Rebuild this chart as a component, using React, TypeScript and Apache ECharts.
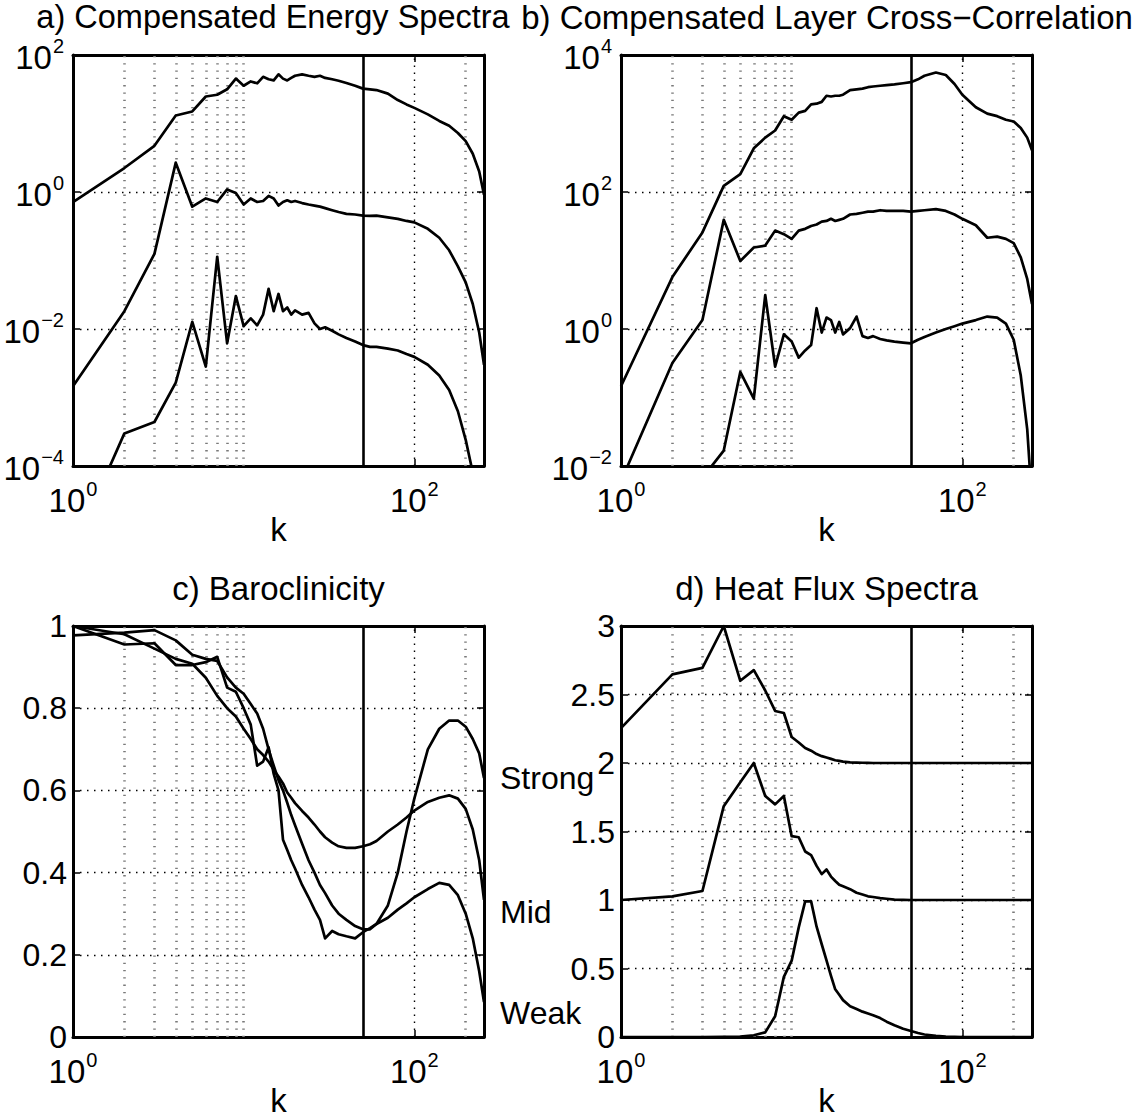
import React, { useEffect, useRef } from 'react';
import * as echarts from 'echarts';

// ---------- data ----------
const K = [1, 2, 3, 4, 5, 6, 7, 8, 9, 10, 11, 12, 13, 14, 15, 16, 17, 18, 19, 20, 22, 24, 26, 28, 30, 33, 36, 40, 45, 50, 55, 60, 70, 80, 90, 100, 120, 140, 160, 180, 200, 220, 240, 256];

const aTop = [0.714, 2.24, 4.72, 13.1, 15.0, 24.8, 26.3, 31.6, 45.2, 35.6, 41.1, 38.6, 48.0, 44.2, 42.6, 52.2, 45.2, 42.6, 46.3, 49.8, 52.2, 49.8, 48.0, 49.8, 46.3, 44.2, 42.1, 39.1, 35.6, 32.3, 31.5, 30.8, 27.3, 22.0, 19.0, 16.9, 13.6, 10.9, 9.25, 7.27, 5.52, 3.62, 1.99, 0.91];
const aMid = [0.00146, 0.0182, 0.125, 2.68, 0.611, 0.805, 0.714, 1.09, 0.965, 0.656, 0.805, 0.714, 0.74, 0.877, 0.805, 0.634, 0.714, 0.758, 0.714, 0.74, 0.689, 0.656, 0.634, 0.611, 0.582, 0.542, 0.51, 0.48, 0.469, 0.452, 0.447, 0.452, 0.426, 0.406, 0.378, 0.36, 0.29, 0.215, 0.141, 0.082, 0.048, 0.0232, 0.0089, 0.003];
const aBot = [6e-6, 2.99e-4, 4.39e-4, 1.65e-3, 0.0127, 2.83e-3, 0.1135, 0.00618, 0.0302, 0.011, 0.0143, 0.0113, 0.0162, 0.0385, 0.0182, 0.0325, 0.0182, 0.0206, 0.0162, 0.0187, 0.0162, 0.0172, 0.0121, 0.01, 0.0106, 0.00942, 0.00835, 0.0074, 0.00656, 0.00582, 0.00548, 0.00548, 0.00516, 0.00486, 0.00431, 0.00392, 0.00301, 0.00209, 0.00129, 6.3e-4, 2.41e-4, 8e-5, 1e-5, 1e-6];

const bTop = [0.146, 5.72, 25.7, 122.7, 182, 434, 622, 791, 1279, 1135, 1443, 1531, 1901, 1948, 2069, 2541, 2479, 2541, 2541, 2633, 3076, 3152, 3229, 3388, 3470, 3555, 3643, 3731, 3866, 4010, 4415, 4977, 5548, 5102, 3776, 2633, 1729, 1393, 1280, 1135, 1069, 861, 622, 408];
const bMid = [0.006, 0.319, 1.35, 39.2, 9.82, 15.5, 16.5, 27.3, 24.2, 20.7, 27.3, 29.0, 31.9, 33.5, 36.9, 37.8, 40.6, 37.8, 39.2, 40.6, 46.9, 48.0, 49.8, 51.6, 51.6, 54.2, 52.9, 52.9, 52.9, 51.6, 52.9, 54.2, 56.1, 52.9, 46.9, 40.6, 32.7, 21.5, 22.3, 20.7, 17.9, 11.1, 5.38, 2.32];
const bBot = [1e-4, 1e-3, 0.0067, 0.0168, 0.236, 0.096, 3.13, 0.283, 0.835, 0.656, 0.382, 0.486, 0.582, 2.01, 0.887, 1.47, 1.35, 0.887, 1.27, 0.835, 1.03, 1.52, 0.787, 0.74, 0.787, 0.714, 0.681, 0.656, 0.634, 0.618, 0.697, 0.767, 0.887, 1.0, 1.1, 1.2, 1.35, 1.52, 1.47, 1.2, 0.697, 0.209, 0.0345, 0.003];

const cA = [1.0, 0.98, 0.945, 0.92, 0.908, 0.874, 0.83, 0.8, 0.78, 0.75, 0.725, 0.7, 0.686, 0.67, 0.65, 0.634, 0.617, 0.595, 0.582, 0.569, 0.55, 0.534, 0.517, 0.5, 0.486, 0.473, 0.464, 0.46, 0.46, 0.464, 0.469, 0.477, 0.5, 0.517, 0.534, 0.551, 0.572, 0.582, 0.588, 0.58, 0.555, 0.505, 0.43, 0.334];
const cB = [0.977, 0.984, 0.99, 0.965, 0.93, 0.92, 0.915, 0.875, 0.85, 0.835, 0.81, 0.787, 0.75, 0.7, 0.66, 0.625, 0.6, 0.57, 0.54, 0.515, 0.47, 0.43, 0.4, 0.37, 0.35, 0.32, 0.3, 0.285, 0.27, 0.262, 0.262, 0.275, 0.32, 0.4, 0.5, 0.58, 0.7, 0.75, 0.77, 0.77, 0.755, 0.725, 0.69, 0.63];
const cC = [1.0, 0.955, 0.958, 0.905, 0.905, 0.912, 0.925, 0.85, 0.84, 0.8, 0.76, 0.66, 0.67, 0.705, 0.64, 0.6, 0.48, 0.455, 0.43, 0.41, 0.37, 0.34, 0.31, 0.285, 0.24, 0.258, 0.25, 0.245, 0.24, 0.255, 0.265, 0.275, 0.29, 0.31, 0.325, 0.34, 0.36, 0.375, 0.37, 0.345, 0.3, 0.24, 0.16, 0.085];

const dStrong = [2.255, 2.647, 2.694, 3.0, 2.6, 2.678, 2.529, 2.38, 2.365, 2.19, 2.15, 2.11, 2.09, 2.065, 2.05, 2.04, 2.03, 2.02, 2.015, 2.01, 2.005, 2.003, 2.002, 2.001, 2.0, 2.0, 2.0, 2.0, 2.0, 2.0, 2.0, 2.0, 2.0, 2.0, 2.0, 2.0, 2.0, 2.0, 2.0, 2.0, 2.0, 2.0, 2.0, 2.0];
const dMid = [1.0, 1.027, 1.066, 1.685, 1.86, 2.0, 1.759, 1.698, 1.759, 1.466, 1.458, 1.354, 1.327, 1.249, 1.189, 1.223, 1.171, 1.139, 1.111, 1.1, 1.079, 1.053, 1.04, 1.027, 1.022, 1.014, 1.009, 1.003, 1.001, 1.0, 1.0, 1.0, 1.0, 1.0, 1.0, 1.0, 1.0, 1.0, 1.0, 1.0, 1.0, 1.0, 1.0, 1.0];
const dWeak = [0, 0, 0, 0.001, 0.003, 0.013, 0.034, 0.152, 0.439, 0.557, 0.8, 0.99, 0.99, 0.805, 0.677, 0.56, 0.447, 0.348, 0.308, 0.269, 0.225, 0.204, 0.185, 0.172, 0.159, 0.138, 0.112, 0.086, 0.06, 0.044, 0.029, 0.018, 0.008, 0.003, 0.001, 0, 0, 0, 0, 0, 0, 0, 0, 0];

// axis ranges / ticks
const K_MIN = 1;
const K_MAX = 256;
const X_TICKS = [1, 100];
const MINOR_GRID_K = [2, 3, 4, 5, 6, 7, 8, 9, 10, 200];
const MAJOR_GRID_K = [100];
const CUTOFF_K = [50];

const aYTicks = [1e-4, 1e-2, 1, 1e2];
const bYTicks = [1e-2, 1, 1e2, 1e4];
const cYTicks = [0, 0.2, 0.4, 0.6, 0.8, 1];
const dYTicks = [0, 0.5, 1, 1.5, 2, 2.5, 3];

const titles = ['a) Compensated Energy Spectra', 'b) Compensated Layer Cross\u2212Correlation', 'c) Baroclinicity', 'd) Heat Flux Spectra'];
const sideLabels = ['Strong', 'Mid', 'Weak'];

// ---------- layout / style ----------
const FONT = '"Liberation Sans", Arial, Helvetica, sans-serif';
const W = 1138;
const H = 1120;
const GW = 411;
const GH = 411;

const PANELS = [
  { left: 73, top: 55, yType: 'log', yTicks: aYTicks, curves: [aTop, aMid, aBot], title: titles[0], titleX: 273, titleSize: 32.5 },
  { left: 621, top: 55, yType: 'log', yTicks: bYTicks, curves: [bTop, bMid, bBot], title: titles[1], titleX: 827, titleSize: 33 },
  { left: 73, top: 626, yType: 'value', yTicks: cYTicks, curves: [cA, cB, cC], title: titles[2], titleX: 278.5, titleSize: 33 },
  { left: 621, top: 626, yType: 'value', yTicks: dYTicks, curves: [dStrong, dMid, dWeak], title: titles[3], titleX: 826.5, titleSize: 33 },
];

const RICH = {
  b: { fontSize: 33, fontFamily: FONT, color: '#000', lineHeight: 38, verticalAlign: 'bottom' },
  s: { fontSize: 20, fontFamily: FONT, color: '#000', lineHeight: 11, verticalAlign: 'top', padding: [0, 0, 0, 1] },
};

function powLabel(v: number) {
  const e = Math.log10(v);
  const r = Math.round(e);
  if (Math.abs(e - r) > 1e-6 || r % 2 !== 0) return '';
  const sup = (r < 0 ? '\u2212' : '') + Math.abs(r);
  return '{b|10}{s|' + sup + '}';
}

const axisLine = { show: true, onZero: false, lineStyle: { color: '#000', width: 3 } };
const tickStyle = { color: '#000', width: 1.5 };

function buildOption() {
  const grid: any[] = [];
  const xAxis: any[] = [];
  const yAxis: any[] = [];
  const series: any[] = [];
  const graphic: any[] = [];

  PANELS.forEach((p, i) => {
    grid.push({ left: p.left, top: p.top, width: GW, height: GH, containLabel: false });

    const xBase = {
      gridIndex: i,
      type: 'log',
      logBase: 10,
      min: K_MIN,
      max: K_MAX,
      silent: true,
      splitLine: { show: false },
      axisLine,
      axisTick: { show: true, inside: true, length: 7, customValues: X_TICKS, lineStyle: tickStyle },
    };
    xAxis.push({
      ...xBase,
      position: 'bottom',
      axisLabel: { show: true, customValues: X_TICKS, formatter: powLabel, rich: RICH, margin: 13 },
      name: 'k',
      nameLocation: 'middle',
      nameGap: 47,
      nameMoveOverlap: false,
      nameTextStyle: { fontSize: 33, fontFamily: FONT, color: '#000', lineHeight: 33 },
    });
    xAxis.push({ ...xBase, position: 'top', axisLabel: { show: false } });

    const isLog = p.yType === 'log';
    const yMin = p.yTicks[0];
    const yMax = p.yTicks[p.yTicks.length - 1];
    const yBase: any = {
      gridIndex: i,
      type: p.yType,
      min: yMin,
      max: yMax,
      silent: true,
      splitLine: { show: false },
      axisLine,
      axisTick: { show: true, inside: true, length: 7, lineStyle: tickStyle },
    };
    if (isLog) {
      yBase.logBase = 10;
      yBase.axisTick.customValues = p.yTicks;
    } else {
      yBase.interval = p.yTicks[1] - p.yTicks[0];
    }
    yAxis.push({
      ...yBase,
      position: 'left',
      axisLabel: isLog
        ? { show: true, customValues: p.yTicks, formatter: powLabel, rich: RICH, margin: 9 }
        : { show: true, fontSize: 32, fontFamily: FONT, color: '#000', margin: 6 },
    });
    yAxis.push({ ...yBase, position: 'right', axisLabel: { show: false } });

    const innerY = p.yTicks.slice(1, -1);
    const majorDot = { color: '#000', width: 1.4, type: [1.5, 5.5] };
    const minorDot = { color: '#7a7a7a', width: 2.6, type: [1.3, 6] };
    const markData: any[] = [
      ...MINOR_GRID_K.map((k) => ({ xAxis: k, lineStyle: minorDot })),
      ...MAJOR_GRID_K.map((k) => ({ xAxis: k, lineStyle: majorDot })),
      ...innerY.map((y) => ({ yAxis: y, lineStyle: majorDot })),
      ...CUTOFF_K.map((k) => ({ xAxis: k, lineStyle: { color: '#000', width: 2.6, type: 'solid' } })),
    ];

    p.curves.forEach((arr, j) => {
      const s: any = {
        type: 'line',
        xAxisIndex: 2 * i,
        yAxisIndex: 2 * i,
        data: K.map((k, n) => [k, arr[n]]),
        showSymbol: false,
        symbol: 'none',
        clip: true,
        silent: true,
        z: 3,
        emphasis: { disabled: true },
        lineStyle: { color: '#000', width: 2.7, join: 'round' },
      };
      if (j === 0) {
        s.markLine = {
          silent: true,
          z: 1,
          symbol: ['none', 'none'],
          label: { show: false },
          emphasis: { disabled: true },
          animation: false,
          data: markData,
        };
      }
      series.push(s);
    });

    graphic.push({
      type: 'text',
      x: p.titleX,
      y: p.top - 38,
      style: { text: p.title, fontSize: p.titleSize, lineHeight: 32, fontFamily: FONT, fill: '#000', align: 'center', verticalAlign: 'middle' },
    });
  });

  const sideY = [778, 912, 1013];
  sideLabels.forEach((t, i) => {
    graphic.push({
      type: 'text',
      x: 500,
      y: sideY[i],
      style: { text: t, fontSize: 32, fontFamily: FONT, fill: '#000', align: 'left', verticalAlign: 'middle' },
    });
  });

  return {
    animation: false,
    backgroundColor: '#fff',
    grid,
    xAxis,
    yAxis,
    series,
    graphic,
  };
}

export default function App() {
  const ref = useRef<HTMLDivElement>(null);
  useEffect(() => {
    const chart = echarts.init(ref.current as HTMLDivElement, null, { renderer: 'svg', width: W, height: H });
    chart.setOption(buildOption() as any);
    return () => chart.dispose();
  }, []);
  return <div ref={ref} style={{ position: 'absolute', left: 0, top: 0, width: W, height: H, background: '#fff' }} />;
}
